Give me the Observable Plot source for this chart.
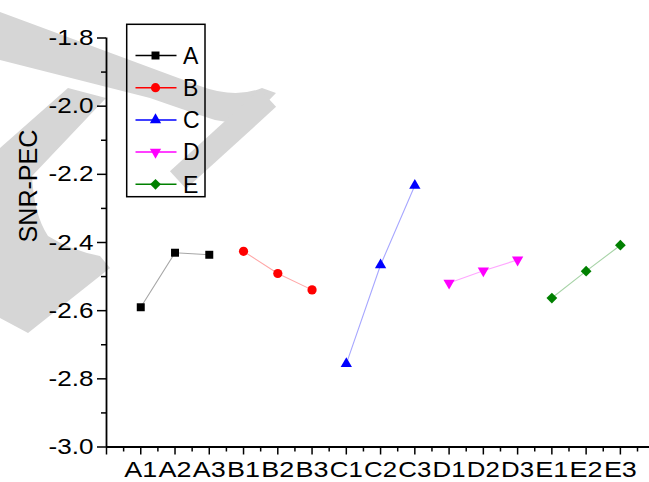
<!DOCTYPE html>
<html>
<head>
<meta charset="utf-8">
<script src="https://cdn.jsdelivr.net/npm/d3@7"></script>
<script src="https://cdn.jsdelivr.net/npm/@observablehq/plot@0.6"></script>
<style>
  html, body { margin: 0; padding: 0; background: #ffffff; overflow: hidden; }
  #chart { position: relative; width: 649px; height: 482px; }
</style>
</head>
<body>
<div id="chart"></div>
<script>
// ---- data ----
const groups = ["A", "B", "C", "D", "E"];
const levels = ["A1", "A2", "A3", "B1", "B2", "B3", "C1", "C2", "C3", "D1", "D2", "D3", "E1", "E2", "E3"];
const snrA = [-2.590, -2.430, -2.436];
const snrB = [-2.426, -2.491, -2.539];
const snrC = [-2.756, -2.466, -2.233];
const snrD = [-2.519, -2.483, -2.451];
const snrE = [-2.563, -2.484, -2.408];
const yTickLabels = [-3.0, -2.8, -2.6, -2.4, -2.2, -2.0, -1.8];
const yMinorTicks = [-2.9, -2.7, -2.5, -2.3, -2.1, -1.9];
const yLabel = "SNR-PEC";

const seriesValues = [snrA, snrB, snrC, snrD, snrE];
const colors = ["#000000", "#ff0000", "#0000ff", "#ff00ff", "#008000"];
const FONT = "'Liberation Sans', Arial, sans-serif";

// custom symbols
const triangleDown = {
  draw(ctx, size) {
    const y = Math.sqrt(size / (3 * Math.sqrt(3)));
    ctx.moveTo(0, 2 * y);
    ctx.lineTo(-Math.sqrt(3) * y, -y);
    ctx.lineTo(Math.sqrt(3) * y, -y);
    ctx.closePath();
  }
};
const diamondSq = {
  draw(ctx, size) {
    const s = Math.sqrt(size / 2);
    ctx.moveTo(0, -s);
    ctx.lineTo(s, 0);
    ctx.lineTo(0, s);
    ctx.lineTo(-s, 0);
    ctx.closePath();
  }
};
const symbols = [d3.symbolSquare, d3.symbolCircle, d3.symbolTriangle, triangleDown, diamondSq];
const radii = [4.5, 4.6, 4.2, 4.2, 4.3];

const rows = groups.flatMap((g, gi) =>
  seriesValues[gi].map((v, j) => ({group: g, gi, level: levels[gi * 3 + j], i: gi * 3 + j + 1, value: v}))
);

const xMajor = d3.range(0, levels.length + 1);
const xMinor = d3.range(0.5, levels.length + 1, 1);

const seriesMarks = groups.flatMap((g, gi) => {
  const d = rows.filter(r => r.gi === gi);
  return [
    Plot.line(d, {x: "i", y: "value", stroke: colors[gi], strokeOpacity: 0.35, strokeWidth: 1.1}),
    Plot.dot(d, {x: "i", y: "value", fill: colors[gi], stroke: "none", symbol: symbols[gi], r: radii[gi]})
  ];
});

const plot = Plot.plot({
  width: 649,
  height: 482,
  marginLeft: 106,
  marginRight: 0,
  marginTop: 37.5,
  marginBottom: 35.5,
  style: {fontFamily: FONT, color: "#000", background: "transparent"},
  x: {type: "linear", domain: [0, 15.85], axis: null},
  y: {domain: [-3, -1.8], axis: null},
  marks: [
    Plot.axisY(yMinorTicks, {anchor: "left", tickSize: 5, tickFormat: () => "", strokeWidth: 1.5, label: null}),
    Plot.axisY(yTickLabels, {anchor: "left", tickSize: 9, tickPadding: 4, strokeWidth: 1.5,
      tickFormat: d => d.toFixed(1), fontSize: 22, label: null}),
    Plot.axisX(xMinor, {anchor: "bottom", tickSize: 5, tickFormat: () => "", strokeWidth: 1.5, label: null}),
    Plot.axisX(xMajor, {anchor: "bottom", tickSize: 8, tickPadding: 6, strokeWidth: 1.5,
      tickFormat: i => (i >= 1 ? levels[i - 1] : ""), fontSize: 22, label: null}),
    Plot.ruleX([0], {y1: -3, y2: -1.8, strokeWidth: 1.8}),
    Plot.ruleY([-3], {strokeWidth: 1.8}),
    Plot.text([yLabel], {frameAnchor: "left", dx: -78, rotate: -90, fontSize: 26, fill: "#000"}),
    ...seriesMarks
  ]
});

document.getElementById("chart").appendChild(plot);
const svg = d3.select(plot);

// stretch tick labels horizontally like the reference
svg.selectAll('g[aria-label="x-axis tick label"] text')
  .filter(function () { return this.textContent.length > 0; })
  .attr("textLength", 33).attr("lengthAdjust", "spacingAndGlyphs");
svg.selectAll('g[aria-label="y-axis tick label"] text')
  .filter(function () { return this.textContent.length > 0; })
  .attr("textLength", 45).attr("lengthAdjust", "spacingAndGlyphs");
svg.selectAll('g[aria-label="text"] text')
  .filter(function () { return this.textContent === yLabel; })
  .attr("textLength", 113).attr("lengthAdjust", "spacingAndGlyphs");

// ---- watermark (decoration behind everything) ----
const WM = "#d6d6d6";
const wm = svg.insert("g", ":first-child");
wm.append("path").attr("fill", WM).attr("d",
  "M0,12 L200,86 Q235,99 262,88 L276,93 L245,125 L215,120 Q190,112 150,98 L0,60 Z");
wm.append("path").attr("fill", "none").attr("stroke", WM).attr("stroke-width", 24)
  .attr("stroke-linecap", "butt").attr("d", "M268,98 L178,180");
wm.append("path").attr("fill", WM).attr("d",
  "M68,88 L106,98 L32,176 Q34,215 48,236 Q70,250 100,256 L110,268 L28,333 L0,318 L0,148 Z");

// ---- legend ----
const lg = svg.append("g").attr("text-anchor", "start");
lg.append("rect").attr("x", 126.7).attr("y", 24.3).attr("width", 78.3).attr("height", 172.4)
  .attr("fill", "none").attr("stroke", "#000").attr("stroke-width", 1.5);
groups.forEach((g, gi) => {
  const cy = 55.5 + gi * 32.2;
  lg.append("line").attr("x1", 135.5).attr("x2", 176.5).attr("y1", cy).attr("y2", cy)
    .attr("stroke", colors[gi]).attr("stroke-width", 1.5);
  lg.append("path").attr("transform", `translate(155.5,${cy})`)
    .attr("d", d3.symbol(symbols[gi], Math.PI * radii[gi] * radii[gi])())
    .attr("fill", colors[gi]);
  lg.append("text").attr("x", 183).attr("y", cy).attr("dy", "0.36em")
    .attr("font-size", 23).attr("font-family", FONT).attr("fill", "#000")
    .attr("text-anchor", "start").text(g);
});
</script>
</body>
</html>
